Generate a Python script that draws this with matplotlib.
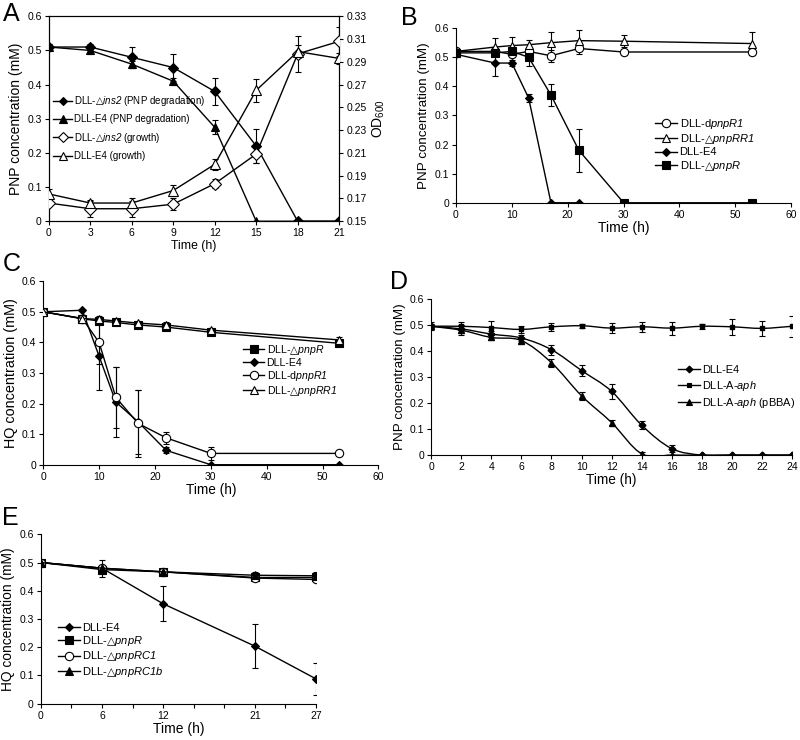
import numpy as np
import matplotlib
matplotlib.use("Agg")
import matplotlib.pyplot as plt
from matplotlib.lines import Line2D
from matplotlib.path import Path
from matplotlib.patches import PathPatch
from matplotlib.ticker import FuncFormatter

plt.rcParams["font.family"] = ["Liberation Sans", "DejaVu Sans"]
plt.rcParams["mathtext.fontset"] = "custom"
plt.rcParams["mathtext.rm"] = "Liberation Sans"
plt.rcParams["mathtext.it"] = "Liberation Sans:italic"
# bf slot used for italic gene names (keeps digits italic too)
plt.rcParams["mathtext.bf"] = "Liberation Sans:italic"
plt.rcParams["mathtext.sf"] = "DejaVu Sans"
plt.rcParams["font.size"] = 8

TRI = "\\mathsf{\u25b3}"

# ---- panel A ----
tA = [0, 3, 6, 9, 12, 15, 18, 21]
a_ins2_pnp = [0.51, 0.51, 0.48, 0.45, 0.38, 0.22, 0, 0]
a_ins2_pnp_err = [0.01, 0.01, 0.03, 0.04, 0.04, 0.05, 0, 0]
a_e4_pnp = [0.51, 0.50, 0.46, 0.41, 0.275, 0, 0, 0]
a_e4_pnp_err = [0.01, 0.01, 0.01, 0.01, 0.02, 0, 0, 0]
a_ins2_od = [0.166, 0.161, 0.161, 0.165, 0.183, 0.209, 0.297, 0.308]
a_ins2_od_err = [0.003, 0.007, 0.007, 0.005, 0.004, 0.008, 0.016, 0.013]
a_e4_od = [0.174, 0.166, 0.166, 0.177, 0.200, 0.265, 0.299, 0.293]
a_e4_od_err = [0.004, 0.003, 0.004, 0.005, 0.005, 0.01, 0.006, 0.005]

# ---- panel B ----
tB = [0, 7, 10, 13, 17, 22, 30, 53]
b_dpnpr1 = [0.52, 0.52, 0.51, 0.52, 0.505, 0.53, 0.518, 0.518]
b_dpnpr1_err = [0.01, 0.01, 0.01, 0.01, 0.02, 0.02, 0.01, 0.01]
b_pnprr1 = [0.52, 0.535, 0.54, 0.543, 0.55, 0.557, 0.555, 0.547]
b_pnprr1_err = [0.01, 0.03, 0.03, 0.015, 0.035, 0.035, 0.02, 0.04]
tB_e4 = [0, 7, 10, 13, 17, 22]
b_e4 = [0.51, 0.48, 0.48, 0.36, 0, 0]
b_e4_err = [0.01, 0.045, 0.01, 0.015, 0, 0]
b_pnpr = [0.515, 0.515, 0.52, 0.50, 0.37, 0.18, 0, 0]
b_pnpr_err = [0.01, 0.01, 0.01, 0.03, 0.037, 0.073, 0, 0]

# ---- panel C ----
tC = [0, 7, 10, 13, 17, 22, 30, 53]
c_pnpr = [0.5, 0.477, 0.47, 0.465, 0.457, 0.45, 0.433, 0.397]
c_pnpr_err = [0.005, 0.01, 0.01, 0.005, 0.005, 0.005, 0.005, 0.008]
c_e4 = [0.5, 0.505, 0.355, 0.205, 0.14, 0.047, 0, 0]
c_e4_err = [0, 0, 0.11, 0.115, 0.105, 0.01, 0, 0]
c_dpnpr1 = [0.5, 0.478, 0.40, 0.22, 0.135, 0.088, 0.037, 0.037]
c_dpnpr1_err = [0, 0.01, 0.07, 0.1, 0.11, 0.02, 0.02, 0.005]
c_pnprr1 = [0.5, 0.478, 0.475, 0.47, 0.463, 0.457, 0.44, 0.408]
c_pnprr1_err = [0.005, 0.005, 0.01, 0.005, 0.005, 0.008, 0.008, 0.01]

# ---- panel D ----
tD = [0, 2, 4, 6, 8, 10, 12, 14, 16, 18, 20, 22, 24]
d_e4 = [0.495, 0.485, 0.465, 0.45, 0.405, 0.325, 0.245, 0.115, 0.025, 0, 0, 0, 0]
d_e4_err = [0.01, 0.015, 0.01, 0.01, 0.02, 0.02, 0.03, 0.015, 0.015, 0, 0, 0, 0]
d_aph = [0.495, 0.495, 0.49, 0.483, 0.493, 0.497, 0.488, 0.493, 0.488, 0.495, 0.493, 0.487, 0.495]
d_aph_err = [0.015, 0.015, 0.025, 0.015, 0.015, 0.008, 0.02, 0.02, 0.025, 0.01, 0.03, 0.03, 0.04]
d_pbba = [0.495, 0.48, 0.452, 0.44, 0.355, 0.228, 0.125, 0.005, 0, 0, 0, 0, 0]
d_pbba_err = [0.01, 0.02, 0.01, 0.01, 0.015, 0.015, 0.01, 0.005, 0, 0, 0, 0, 0]

# ---- panel E ----
tE = [0, 6, 12, 21, 27]
e_e4 = [0.5, 0.48, 0.354, 0.204, 0.088]
e_e4_err = [0, 0.03, 0.062, 0.077, 0.058]
e_pnpr = [0.5, 0.475, 0.467, 0.447, 0.447]
e_pnpr_err = [0, 0.005, 0.005, 0.005, 0.005]
e_rc1 = [0.5, 0.48, 0.467, 0.445, 0.44]
e_rc1_err = [0, 0.01, 0.005, 0.008, 0.01]
e_rc1b = [0.5, 0.48, 0.467, 0.455, 0.453]
e_rc1b_err = [0, 0.01, 0.005, 0.012, 0.012]


def fmt_num(v, _):
    return "0" if abs(v) < 1e-9 else f"{v:g}"


def gene(prefix, name, tri=False):
    return prefix + "$" + (TRI if tri else "") + r"\mathbf{" + name + "}$"


def series(ax, x, y, err, marker, ms, filled=True, lw=1.0):
    ax.errorbar(x, y, yerr=err, fmt="none", ecolor="black", elinewidth=0.8,
                capsize=2, capthick=0.8, zorder=2)
    ax.plot(x, y, "-", color="black", lw=lw, marker=marker, ms=ms,
            mfc="black" if filled else "white", mec="black", mew=0.8, zorder=3)


def smooth_series(ax, x, y, err, marker, ms):
    # excel-style smoothed line drawn as bezier path through the data points
    pts = np.column_stack([x, y]).astype(float)
    verts, codes = [pts[0]], [Path.MOVETO]
    n = len(pts)
    for i in range(n - 1):
        p0, p1 = pts[max(i - 1, 0)], pts[i]
        p2, p3 = pts[i + 1], pts[min(i + 2, n - 1)]
        verts += [p1 + (p2 - p0) / 6, p2 - (p3 - p1) / 6, p2]
        codes += [Path.CURVE4] * 3
    ax.add_patch(PathPatch(Path(verts, codes), fill=False, lw=1.0, ec="black", zorder=2))
    ax.errorbar(x, y, yerr=err, fmt="none", ecolor="black", elinewidth=0.8,
                capsize=2, capthick=0.8, zorder=2)
    ax.plot(x, y, ls="none", marker=marker, ms=ms, color="black", zorder=3)


def handle(marker, ms, filled=True):
    return Line2D([], [], color="black", lw=1.0, marker=marker, ms=ms,
                  mfc="black" if filled else "white", mec="black", mew=0.8)


def style(ax, ylabel, xfs=10, yfs=10, box=False):
    if not box:
        ax.spines["top"].set_visible(False)
        ax.spines["right"].set_visible(False)
    ax.set_ylim(0, 0.6)
    ax.set_yticks(np.arange(0, 0.61, 0.1))
    ax.yaxis.set_major_formatter(FuncFormatter(fmt_num))
    ax.set_ylabel(ylabel, fontsize=yfs, labelpad=3)
    ax.set_xlabel("Time (h)", fontsize=xfs, labelpad=1)
    ax.tick_params(length=3, width=0.8, labelsize=7.5, pad=2)
    for s in ax.spines.values():
        s.set_linewidth(0.8)


def leg(ax, handles, labels, x, y, fs=8, sp=0.1):
    ax.legend(handles, labels, loc="upper left", bbox_to_anchor=(x, y), frameon=False,
              fontsize=fs, handlelength=2.0, handletextpad=0.2, borderpad=0,
              borderaxespad=0, labelspacing=sp, numpoints=1)


fig = plt.figure(figsize=(8, 7.4), dpi=100)

# ---- A ----
axA = fig.add_axes([0.061, 0.701, 0.363, 0.277])
series(axA, tA, a_ins2_pnp, a_ins2_pnp_err, "D", 5)
series(axA, tA, a_e4_pnp, a_e4_pnp_err, "^", 6)
axA.set_xlim(0, 21)
axA.set_xticks(tA)
style(axA, "PNP concentration (mM)", xfs=8.8, box=True)
axA2 = axA.twinx()
series(axA2, tA, a_ins2_od, a_ins2_od_err, "D", 6, filled=False)
series(axA2, tA, a_e4_od, a_e4_od_err, "^", 7, filled=False)
axA2.set_ylim(0.15, 0.33)
axA2.set_yticks(np.arange(0.15, 0.331, 0.02))
axA2.yaxis.set_major_formatter(FuncFormatter(lambda v, _: f"{v:.2f}"))
axA2.set_ylabel("OD$_{600}$", fontsize=10, labelpad=3)
axA2.tick_params(length=3, width=0.8, labelsize=7.5, pad=2)
for s in axA2.spines.values():
    s.set_linewidth(0.8)
leg(axA2, [handle("D", 4.5), handle("^", 5.5), handle("D", 5, False), handle("^", 6, False)],
    [gene("DLL-", "ins2", True) + " (PNP degradation)", "DLL-E4 (PNP degradation)",
     gene("DLL-", "ins2", True) + " (growth)", "DLL-E4 (growth)"], 0.014, 0.62,
    fs=7, sp=0.65)

# ---- B ----
axB = fig.add_axes([0.570, 0.726, 0.419, 0.236])
series(axB, tB, b_dpnpr1, b_dpnpr1_err, "o", 6, filled=False)
series(axB, tB, b_pnprr1, b_pnprr1_err, "^", 6, filled=False)
series(axB, tB_e4, b_e4, b_e4_err, "D", 4)
series(axB, tB, b_pnpr, b_pnpr_err, "s", 6)
axB.set_xlim(0, 60)
axB.set_xticks(range(0, 61, 10))
style(axB, "PNP concentration (mM)", xfs=10, yfs=9.6)
leg(axB, [handle("o", 6, False), handle("^", 6, False), handle("D", 4), handle("s", 6)],
    [gene("DLL-d", "pnpR1"), gene("DLL-", "pnpRR1", True), "DLL-E4",
     gene("DLL-", "pnpR", True)], 0.594, 0.49)

# ---- C ----
axC = fig.add_axes([0.054, 0.372, 0.419, 0.248])
series(axC, tC, c_pnpr, c_pnpr_err, "s", 5.5)
series(axC, tC, c_e4, c_e4_err, "D", 4)
series(axC, tC, c_dpnpr1, c_dpnpr1_err, "o", 6, filled=False)
series(axC, tC, c_pnprr1, c_pnprr1_err, "^", 6, filled=False)
axC.set_xlim(0, 60)
axC.set_xticks(range(0, 61, 10))
style(axC, "HQ concentration (mM)", xfs=9.8, yfs=10.4)
leg(axC, [handle("s", 5.5), handle("D", 4), handle("o", 6, False), handle("^", 6, False)],
    [gene("DLL-", "pnpR", True), "DLL-E4", gene("DLL-d", "pnpR1"),
     gene("DLL-", "pnpRR1", True)], 0.597, 0.665, fs=7.6)

# ---- D ----
axD = fig.add_axes([0.539, 0.385, 0.451, 0.211])
smooth_series(axD, tD, d_e4, d_e4_err, "D", 3.5)
smooth_series(axD, tD, d_aph, d_aph_err, "s", 3.5)
smooth_series(axD, tD, d_pbba, d_pbba_err, "^", 4)
axD.set_xlim(0, 24)
axD.set_xticks(range(0, 25, 2))
style(axD, "PNP concentration (mM)", xfs=9.8, yfs=9.6)
leg(axD, [handle("D", 3.5), handle("s", 3.5), handle("^", 4)],
    ["DLL-E4", gene("DLL-A-", "aph"), gene("DLL-A-", "aph") + " (pBBA)"], 0.684, 0.575,
    fs=7.9, sp=0.3)

# ---- E ----
axE = fig.add_axes([0.051, 0.049, 0.344, 0.229])
series(axE, tE, e_e4, e_e4_err, "D", 4.5)
series(axE, tE, e_pnpr, e_pnpr_err, "s", 5.5)
series(axE, tE, e_rc1, e_rc1_err, "o", 6, filled=False)
series(axE, tE, e_rc1b, e_rc1b_err, "^", 6)
axE.set_xlim(0, 27)
axE.set_xticks(range(0, 28, 3))
axE.set_xticklabels(["0", "", "6", "", "12", "", "", "21", "", "27"])
style(axE, "HQ concentration (mM)", xfs=10, yfs=9.9)
leg(axE, [handle("D", 4.5), handle("s", 5.5), handle("o", 6, False), handle("^", 6)],
    ["DLL-E4", gene("DLL-", "pnpR", True), gene("DLL-", "pnpRC1", True),
     gene("DLL-", "pnpRC1b", True)], 0.062, 0.475)

# panel letters
for lab, x, y in [("A", 3, 2), ("B", 401, 6), ("C", 3, 252), ("D", 390, 270), ("E", 2, 506)]:
    fig.text(x / 800, 1 - y / 740, lab, fontsize=18, ha="left", va="top")

fig.savefig("out.png", dpi=100)
